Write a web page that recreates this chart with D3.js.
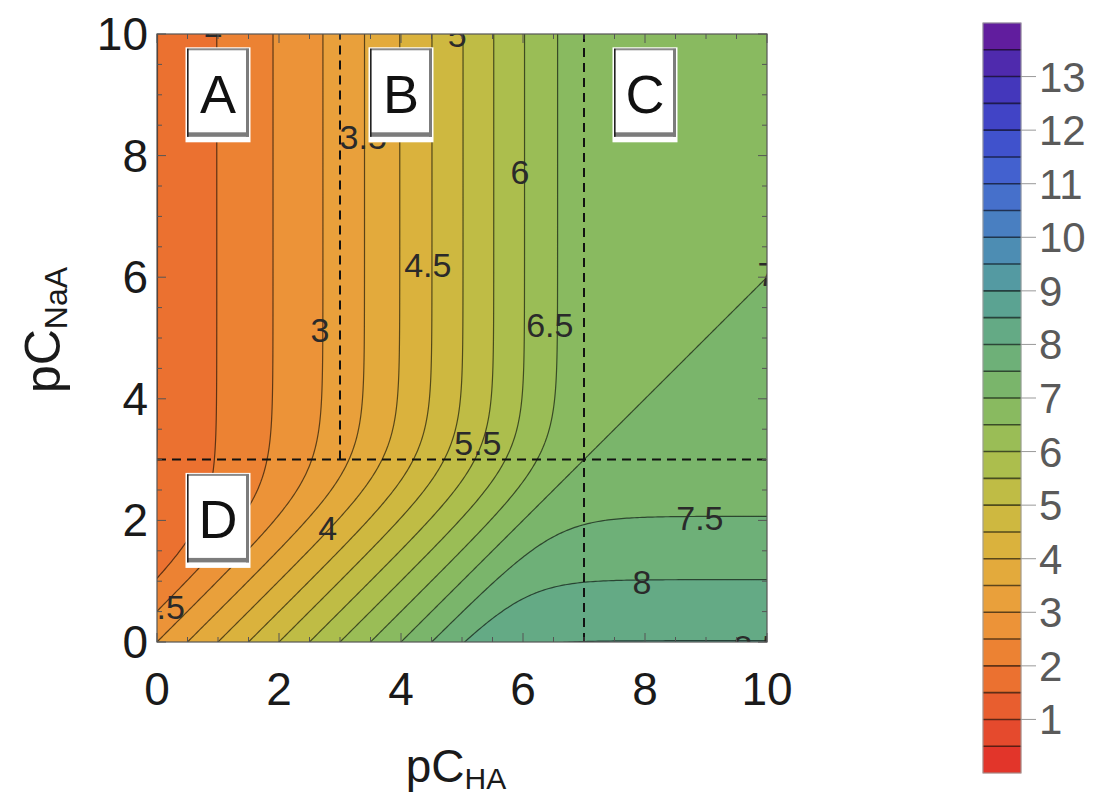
<!DOCTYPE html>
<html><head><meta charset="utf-8">
<script src="https://cdn.jsdelivr.net/npm/d3@7"></script>
<style>body{margin:0;background:#fff;} text{font-family:"Liberation Sans",Arial,sans-serif;}</style>
</head><body><svg id="c" width="1097" height="796"></svg>
<script>
// ---- data ----
const xDomain = [0, 10];            // pC_HA
const yDomain = [0, 10];            // pC_NaA
const xTicks = [0, 2, 4, 6, 8, 10];
const yTicks = [0, 2, 4, 6, 8, 10];
const pKa = 3;                      // acid constant (dashed line at pC = pKa)
const pKw = 14;
const contourLevels = [0.5,1,1.5,2,2.5,3,3.5,4,4.5,5,5.5,6,6.5,7,7.5,8,8.5,9,9.5,10,10.5,11,11.5,12,12.5,13,13.5];
const colorbarRange = [0, 14];
const colorbarTicks = [1,2,3,4,5,6,7,8,9,10,11,12,13];
const colorStopValues = [0,1,2,3,4,5,6,7,8,9,10,11,12,13,14];
const colorStops = ["#e02a28","#e6542e","#ec7a31","#ec9b3a","#e0af3c","#c8bb41","#a3bf51","#80b865","#68ad7e","#57a099","#4a86bc","#4468d0","#3f4acb","#4630b5","#6a1696"];
const contourLabelText = ["2","2.5","3","3.5","4","4.5","5","5.5","6","6.5","7","7.5","8","8.5"];
const contourLabelX    = [0.92,0.07,2.67,3.38,2.8,4.44,4.92,5.26,5.95,6.44,10.0,8.9,7.95,9.84];
const contourLabelY    = [10.14,0.58,5.13,8.3,1.88,6.2,9.98,3.27,7.73,5.21,6.05,2.04,0.99,-0.09];
const regionNames = ["A","B","C","D"];
const regionX = [1, 4, 8, 1];
const regionY = [9, 9, 9, 2];
const dashedLines = [ // [x1,y1,x2,y2] in data units
  [3, 3, 3, 10],
  [0, 3, 10, 3],
  [7, 0, 7, 10]
];

// ---- layout ----
const svg = d3.select("#c");
svg.append("rect").attr("width",1097).attr("height",796).attr("fill","#fff");
const X = d3.scaleLinear().domain(xDomain).range([157, 767]);
const Y = d3.scaleLinear().domain(yDomain).range([642, 34]);
const color = d3.scaleLinear().domain(colorStopValues).range(colorStops).interpolate(d3.interpolateRgb);

function pH(pCa, pCs){
  const Ca = Math.pow(10,-pCa), Cs = Math.pow(10,-pCs), Ka = Math.pow(10,-pKa), Kw = Math.pow(10,-pKw);
  let lo = -16, hi = 2;
  for (let k=0;k<55;k++){
    const m=(lo+hi)/2, h=Math.pow(10,m);
    const f = h + Cs - (Ca+Cs)*Ka/(Ka+h) - Kw/h;
    if (f>0) hi=m; else lo=m;
  }
  return -(lo+hi)/2;
}
const n = 241, gmin = -0.1, step = 10.2/(n-1);
const grid = new Array(n*n);
for (let j=0;j<n;j++) for (let i=0;i<n;i++) grid[j*n+i] = pH(gmin+i*step, gmin+j*step);

const proj = d3.geoTransform({point(x,y){ this.stream.point(X(gmin+x*step), Y(gmin+y*step)); }});
const path = d3.geoPath(proj);
const contours = d3.contours().size([n,n]).thresholds(contourLevels)(grid);

svg.append("clipPath").attr("id","plotclip").append("rect")
  .attr("x",X(0)).attr("y",Y(10)).attr("width",X(10)-X(0)).attr("height",Y(0)-Y(10));
const plot = svg.append("g").attr("clip-path","url(#plotclip)");
plot.append("rect").attr("x",X(0)).attr("y",Y(10)).attr("width",X(10)-X(0)).attr("height",Y(0)-Y(10))
  .attr("fill", color(contourLevels[0]-0.25));
plot.selectAll("path.band").data(contours).join("path").attr("class","band")
  .attr("d",path).attr("fill",d=>color(d.value+0.25)).attr("stroke",d=>color(d.value+0.25)).attr("stroke-width",0.5);
plot.selectAll("path.line").data(contours).join("path").attr("class","line")
  .attr("d",path).attr("fill","none").attr("stroke","rgba(0,0,0,0.6)").attr("stroke-width",1.2);

// dashed lines
plot.selectAll("line.dash").data(dashedLines).join("line").attr("class","dash")
  .attr("x1",d=>X(d[0])).attr("y1",d=>Y(d[1])).attr("x2",d=>X(d[2])).attr("y2",d=>Y(d[3]))
  .attr("stroke","#111").attr("stroke-width",2).attr("stroke-dasharray","9,6");

// contour labels
plot.selectAll("text.cl").data(contourLabelText).join("text").attr("class","cl")
  .attr("x",(d,i)=>X(contourLabelX[i])).attr("y",(d,i)=>Y(contourLabelY[i]))
  .attr("text-anchor","middle").attr("dominant-baseline","central")
  .attr("font-size",34).attr("fill","#2a2a2a").text(d=>d);

// region boxes
regionNames.forEach((name,i)=>{
  const cx = X(regionX[i]), cy = Y(regionY[i]);
  const g = plot.append("g");
  g.append("rect").attr("x",cx-32.5).attr("y",cy-47.5).attr("width",65).attr("height",95).attr("fill","#fff");
  g.append("rect").attr("x",cx-31).attr("y",cy-46.5).attr("width",62).attr("height",2).attr("fill","#8a8a8a");
  g.append("rect").attr("x",cx+28).attr("y",cy-46).attr("width",3).attr("height",88).attr("fill","#7c7c7c");
  g.append("rect").attr("x",cx-31).attr("y",cy+37.5).attr("width",62).attr("height",4.5).attr("fill","#7c7c7c");
  g.append("rect").attr("x",cx-31).attr("y",cy-46).attr("width",1.6).attr("height",88).attr("fill","#222");
  g.append("text").attr("x",cx).attr("y",cy+18).attr("text-anchor","middle")
    .attr("font-size",54).attr("fill","#111").text(name);
});

// frame and ticks
const frame = svg.append("g");
frame.append("rect").attr("x",X(0)).attr("y",Y(10)).attr("width",X(10)-X(0)).attr("height",Y(0)-Y(10))
  .attr("fill","none").attr("stroke","#555").attr("stroke-width",1.2);
const minor = d3.range(0, 10.001, 0.5);
minor.forEach(v=>{
  const major = Math.abs(v/2 - Math.round(v/2))<1e-9;
  const L = major ? 9 : 5;
  frame.append("line").attr("x1",X(v)).attr("x2",X(v)).attr("y1",Y(0)).attr("y2",Y(0)-L).attr("stroke","#555").attr("stroke-width",1);
  frame.append("line").attr("x1",X(v)).attr("x2",X(v)).attr("y1",Y(10)).attr("y2",Y(10)+L).attr("stroke","#555").attr("stroke-width",1);
  frame.append("line").attr("y1",Y(v)).attr("y2",Y(v)).attr("x1",X(0)).attr("x2",X(0)+L).attr("stroke","#555").attr("stroke-width",1);
  frame.append("line").attr("y1",Y(v)).attr("y2",Y(v)).attr("x1",X(10)).attr("x2",X(10)-L).attr("stroke","#555").attr("stroke-width",1);
});
frame.selectAll("text.xt").data(xTicks).join("text").attr("class","xt")
  .attr("x",d=>X(d)).attr("y",705).attr("text-anchor","middle").attr("font-size",46).attr("fill","#1a1a1a").text(d=>d);
frame.selectAll("text.yt").data(yTicks).join("text").attr("class","yt")
  .attr("x",148).attr("y",d=>Y(d)+16).attr("text-anchor","end").attr("font-size",46).attr("fill","#1a1a1a").text(d=>d);

// axis titles
const xt = svg.append("text").attr("x",456).attr("y",782).attr("text-anchor","middle").attr("font-size",46).attr("fill","#1a1a1a");
xt.append("tspan").text("pC");
xt.append("tspan").attr("font-size",30).attr("dy",7).text("HA");
const yt = svg.append("text").attr("transform","translate(60,330) rotate(-90)").attr("text-anchor","middle").attr("font-size",50).attr("fill","#1a1a1a");
yt.append("tspan").text("pC");
yt.append("tspan").attr("font-size",32).attr("dy",7).text("NaA");

// colorbar
const C = d3.scaleLinear().domain(colorbarRange).range([773, 23]);
const cb = svg.append("g");
const bands = d3.range(colorbarRange[0], colorbarRange[1], 0.5);
cb.selectAll("rect.cb").data(bands).join("rect").attr("class","cb")
  .attr("x",983).attr("width",38).attr("y",d=>C(d+0.5)).attr("height",d=>C(d)-C(d+0.5))
  .attr("fill",d=>color(d+0.25)).attr("stroke",d=>color(d+0.25)).attr("stroke-width",0.5);
cb.selectAll("line.sep").data(contourLevels).join("line").attr("class","sep")
  .attr("x1",983).attr("x2",1021).attr("y1",d=>C(d)).attr("y2",d=>C(d))
  .attr("stroke","rgba(0,0,0,0.6)").attr("stroke-width",1.6);
cb.append("rect").attr("x",983).attr("y",23).attr("width",38).attr("height",750).attr("fill","none").attr("stroke","#999").attr("stroke-width",1);
cb.selectAll("line.ct").data(colorbarTicks).join("line").attr("class","ct")
  .attr("x1",1021).attr("x2",1036).attr("y1",d=>C(d)).attr("y2",d=>C(d)).attr("stroke","#999").attr("stroke-width",1);
cb.selectAll("text.ctl").data(colorbarTicks).join("text").attr("class","ctl")
  .attr("x",1039).attr("y",d=>C(d)+15).attr("font-size",42).attr("fill","#5a5a5a").text(d=>d);
</script></body></html>
